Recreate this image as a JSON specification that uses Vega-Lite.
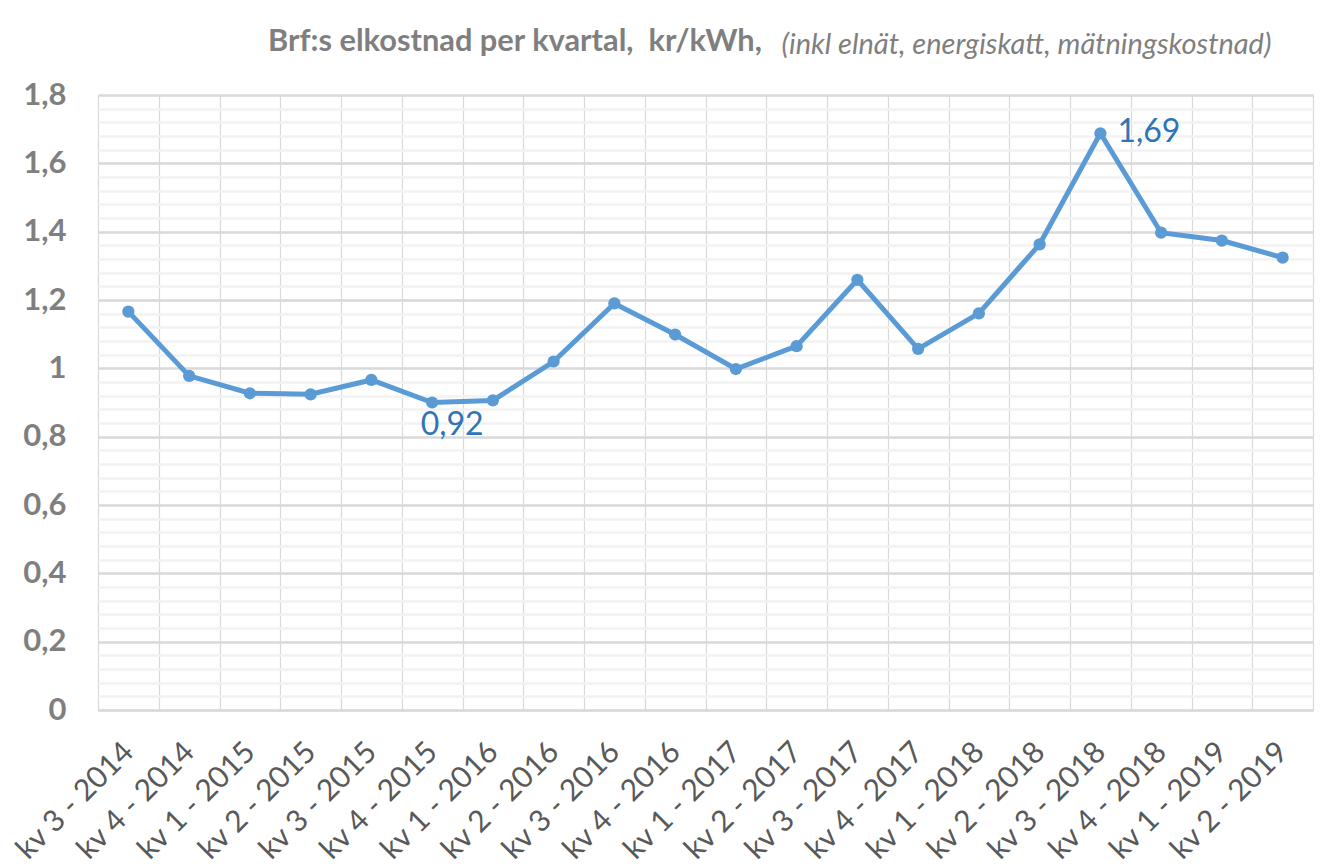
{
  "$schema": "https://vega.github.io/schema/vega-lite/v6.json",
  "width": 1215,
  "height": 615,
  "autosize": "none",
  "padding": {"left": 98, "top": 95, "right": 18, "bottom": 157},
  "background": "white",
  "config": {
    "locale": {"number": {"decimal": ",", "thousands": " ", "grouping": [3], "currency": ["", " kr"]}},
    "view": {"stroke": null},
    "font": "Lato"
  },
  "title": {
    "text": "Brf:s elkostnad per kvartal,\u00a0 kr/kWh,",
    "anchor": "start",
    "frame": "group",
    "dx": 170,
    "offset": -52,
    "baseline": "alphabetic",
    "fontSize": 30.8,
    "fontWeight": "bold",
    "font": "Lato",
    "color": "#7f7f7f"
  },
  "data": {
    "values": [
      {"q": "kv 3 - 2014", "v": 1.166},
      {"q": "kv 4 - 2014", "v": 0.978},
      {"q": "kv 1 - 2015", "v": 0.927},
      {"q": "kv 2 - 2015", "v": 0.924},
      {"q": "kv 3 - 2015", "v": 0.966},
      {"q": "kv 4 - 2015", "v": 0.9, "label": "0,92"},
      {"q": "kv 1 - 2016", "v": 0.906},
      {"q": "kv 2 - 2016", "v": 1.02},
      {"q": "kv 3 - 2016", "v": 1.19},
      {"q": "kv 4 - 2016", "v": 1.099},
      {"q": "kv 1 - 2017", "v": 0.998},
      {"q": "kv 2 - 2017", "v": 1.065},
      {"q": "kv 3 - 2017", "v": 1.259},
      {"q": "kv 4 - 2017", "v": 1.057},
      {"q": "kv 1 - 2018", "v": 1.161},
      {"q": "kv 2 - 2018", "v": 1.363},
      {"q": "kv 3 - 2018", "v": 1.688, "label": "1,69"},
      {"q": "kv 4 - 2018", "v": 1.397},
      {"q": "kv 1 - 2019", "v": 1.374},
      {"q": "kv 2 - 2019", "v": 1.324}
    ]
  },
  "layer": [
    {
      "layer": [
        {
          "mark": {"type": "line", "color": "#5b9bd5", "strokeWidth": 5},
          "encoding": {
            "x": {
              "field": "q", "type": "ordinal", "sort": null, "bandPosition": 0.5,
              "scale": {"type": "band", "paddingInner": 0, "paddingOuter": 0},
              "axis": {
                "title": null, "labelAngle": -45, "labelAlign": "right", "labelBaseline": "middle",
                "labelPadding": 37, "labelFontSize": 30, "labelColor": "#595959", "labelFont": "Lato",
                "labelOverlap": false, "ticks": false, "grid": true, "gridColor": "#d9d9d9", "gridWidth": 1.2,
                "tickBand": "extent", "domainColor": "#d9d9d9", "domainWidth": 2
              }
            },
            "y": {
              "field": "v", "type": "quantitative",
              "scale": {"domain": [0, 1.8], "nice": false},
              "axis": {
                "title": null, "values": [0, 0.2, 0.4, 0.6, 0.8, 1, 1.2, 1.4, 1.6, 1.8], "format": ".1~f",
                "labelFontSize": 31, "labelFontWeight": "bold", "labelColor": "#7f7f7f", "labelFont": "Lato",
                "labelPadding": 32, "ticks": false, "domain": false, "grid": true,
                "gridColor": "#d9d9d9", "gridWidth": 2.5
              }
            }
          }
        },
        {
          "mark": {"type": "point", "filled": true, "opacity": 1, "color": "#5b9bd5", "size": 150},
          "encoding": {
            "x": {"field": "q", "type": "ordinal", "sort": null, "bandPosition": 0.5},
            "y": {"field": "v", "type": "quantitative"}
          }
        },
        {
          "transform": [{"filter": "datum.q == 'kv 3 - 2018'"}],
          "mark": {"type": "text", "align": "left", "baseline": "middle", "dx": 17, "dy": -1, "fontSize": 32, "font": "Lato", "color": "#2e75b6"},
          "encoding": {
            "x": {"field": "q", "type": "ordinal", "sort": null, "bandPosition": 0.5},
            "y": {"field": "v", "type": "quantitative"},
            "text": {"field": "label"}
          }
        },
        {
          "transform": [{"filter": "datum.q == 'kv 4 - 2015'"}],
          "mark": {"type": "text", "align": "center", "baseline": "middle", "dx": 20, "dy": 22, "fontSize": 32, "font": "Lato", "color": "#2e75b6"},
          "encoding": {
            "x": {"field": "q", "type": "ordinal", "sort": null, "bandPosition": 0.5},
            "y": {"field": "v", "type": "quantitative"},
            "text": {"field": "label"}
          }
        }
      ]
    },
    {
      "mark": {"type": "point", "opacity": 0},
      "encoding": {
        "x": {"field": "q", "type": "ordinal", "sort": null, "bandPosition": 0.5},
        "y": {
          "field": "v", "type": "quantitative",
          "scale": {"domain": [0, 1.8], "nice": false},
          "axis": {
            "orient": "right",
            "values": [0.04, 0.08, 0.12, 0.16, 0.24, 0.28, 0.32, 0.36, 0.44, 0.48, 0.52, 0.56, 0.64, 0.68, 0.72, 0.76, 0.84, 0.88, 0.92, 0.96, 1.04, 1.08, 1.12, 1.16, 1.24, 1.28, 1.32, 1.36, 1.44, 1.48, 1.52, 1.56, 1.64, 1.68, 1.72, 1.76],
            "grid": true, "gridColor": "#f2f2f2", "gridWidth": 2.5,
            "labels": false, "ticks": false, "domain": false,
            "title": "(inkl elnät, energiskatt, mätningskostnad)",
            "titleAngle": 0, "titleAlign": "left", "titleBaseline": "alphabetic",
            "titleX": -532, "titleY": -42,
            "titleFont": "Lato", "titleFontSize": 29, "titleFontStyle": "italic", "titleFontWeight": "normal",
            "titleColor": "#7f7f7f"
          }
        }
      }
    }
  ],
  "resolve": {"scale": {"y": "independent"}}
}
